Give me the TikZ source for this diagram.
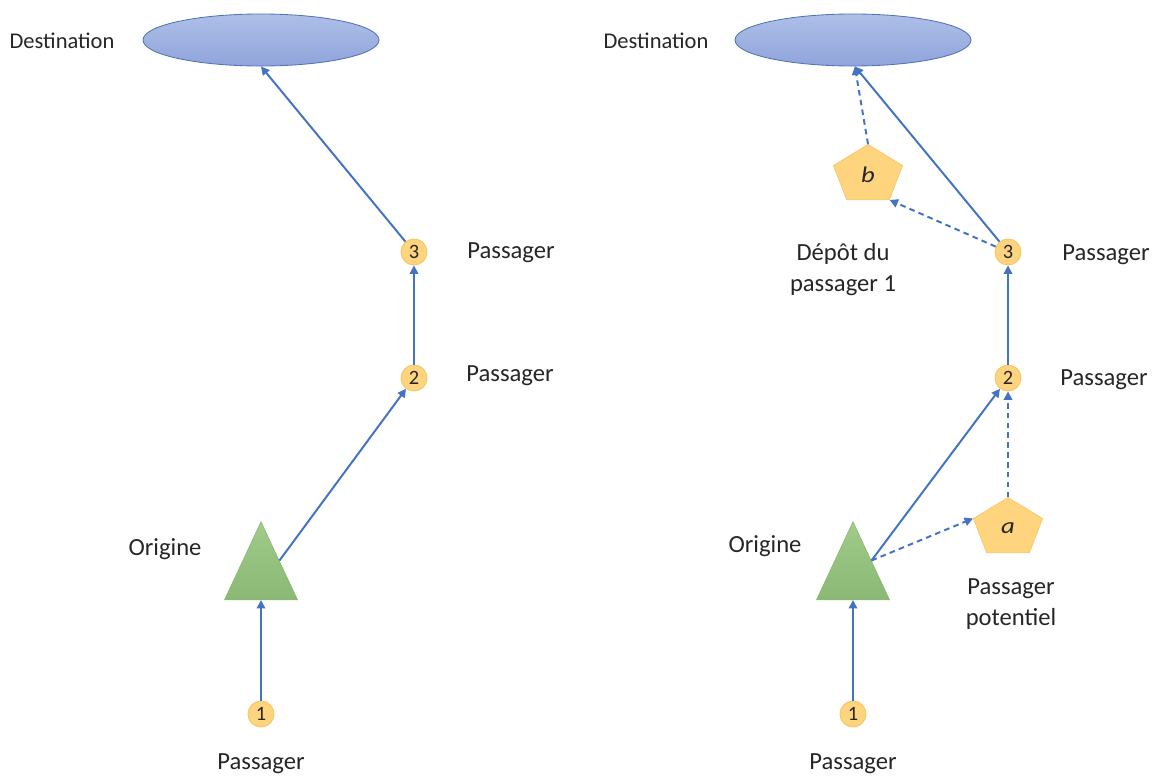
\documentclass[tikz,border=0pt]{standalone}
\usepackage{fontspec}
\setmainfont{Carlito}
\usetikzlibrary{arrows.meta,calc,shapes.geometric}
\definecolor{fleche}{HTML}{4472C4}
\definecolor{jaune}{HTML}{FFD47F}
\definecolor{jauneb}{HTML}{F6C45E}
\definecolor{vertH}{HTML}{A0CB8B}
\definecolor{vertB}{HTML}{8BB874}
\definecolor{bleuH}{HTML}{AEBFE8}
\definecolor{bleuB}{HTML}{8FA4DB}
\definecolor{bleuC}{HTML}{5571B6}
\definecolor{texte}{HTML}{262626}

\tikzset{
	fl/.style={draw=fleche, line width=1.4pt, -{Triangle[width=6pt,length=6pt]}},
	flpt/.style={fl, dash pattern=on 4pt off 3pt},
	arret/.style={circle, fill=jaune, draw=jauneb, line width=0.6pt, minimum size=0.65cm, inner sep=0pt, text=texte, font=\fontsize{14.5}{14.5}\selectfont},
	depot/.style={regular polygon, regular polygon sides=5, minimum size=1.82cm, inner sep=0pt, fill=jaune, draw=jauneb, line width=0.4pt, yscale=0.84, transform shape, text=texte, font=\fontsize{19}{19}\selectfont\itshape},
	origine/.style={isosceles triangle, isosceles triangle stretches, shape border rotate=90, minimum width=1.825cm, minimum height=1.95cm, inner sep=0pt, top color=vertH, bottom color=vertB, draw=vertB, line width=0.4pt},
	dest/.style={ellipse, minimum width=5.9cm, minimum height=1.3cm, top color=bleuH, bottom color=bleuB, draw=bleuC, line width=0.6pt},
	etiq/.style={text=texte, align=center, font=\fontsize{17.5}{22}\selectfont},
	etiqd/.style={text=texte, font=\fontsize{16}{16}\selectfont}
}

\begin{document}
\begin{tikzpicture}[x=0.025cm, y=-0.025cm]
		%%%%% START %%%%%
		\useasboundingbox (0, 0) rectangle (1158, 776);
		
		% gauche
		\node[dest] (ell1) at (261, 40) {};
		\node[etiqd] (tdest1) at (62, 41) {Destination};
		
		\node[arret] (c3) at (414, 252) {3};
		\node[arret] (c2) at (414, 378) {2};
		\node[arret] (c1) at (261, 714) {1};
		\node[origine, anchor=apex] (tri1) at (261, 521) {};
		
		\node[etiq] (tp3) at (511, 253) {Passager};
		\node[etiq] (tp2) at (510, 376) {Passager};
		\node[etiq] (tp1) at (261, 764) {Passager};
		\node[etiq] (tor1) at (165, 549) {Origine};
		
		\draw[fl] (c1) -- (tri1.south);
		\draw[fl] ($(tri1.apex)!0.5!(tri1.right corner)$) -- (c2);
		\draw[fl] (c2) -- (c3);
		\draw[fl] (c3) -- (ell1.south);
		
		% droite
		\node[dest] (ellr) at (853, 40) {};
		\node[etiqd] (tdestr) at (656, 41) {Destination};
		
		\node[arret] (c3r) at (1008, 252) {3};
		\node[arret] (c2r) at (1008, 378) {2};
		\node[arret] (c1r) at (853, 714) {1};
		\node[origine, anchor=apex] (trir) at (853, 521) {};
		\node[depot] (pb) at (868, 175) {b};
		\node[depot] (pa) at (1008, 528) {a};
		
		\node[etiq] (tp3r) at (1106, 255) {Passager};
		\node[etiq] (tp2r) at (1104, 380) {Passager};
		\node[etiq] (tp1r) at (853, 764) {Passager};
		\node[etiq] (torr) at (765, 546) {Origine};
		\node[etiq] (tdep) at (843, 270) {Dépôt du\\passager 1};
		\node[etiq] (tpot) at (1011, 604) {Passager\\potentiel};
		
		\coordinate (trirm) at ($(trir.apex)!0.5!(trir.right corner)$);
		\draw[fl] (c1r) -- (trir.south);
		\draw[fl] (trirm) -- (c2r);
		\draw[flpt] (trirm) -- (pa.corner 2);
		\draw[flpt] (pa.corner 1) -- (c2r);
		\draw[fl] (c2r) -- (c3r);
		\draw[fl] (c3r) -- (ellr.-86);
		\draw[flpt] (c3r) -- (pb.corner 4);
		\draw[flpt] (pb.corner 1) -- (ellr.-86);
		
		%%%%% END %%%%%
	\end{tikzpicture}
\end{document}
